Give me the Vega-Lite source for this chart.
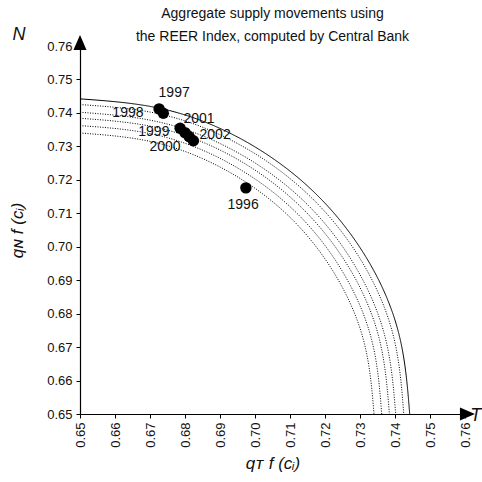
{
  "$schema": "https://vega.github.io/schema/vega-lite/v6.json",
  "width": 385,
  "height": 368,
  "autosize": "none",
  "padding": {"left": 80, "top": 46, "right": 17, "bottom": 68},
  "background": "white",
  "config": {
    "view": {"stroke": null},
    "font": "Liberation Sans",
    "axis": {"grid": false, "domainColor": "#000", "tickColor": "#000", "labelColor": "#111", "titleColor": "#111", "labelFont": "Liberation Sans", "labelFontSize": 13, "titleFont": "Liberation Sans", "titleFontSize": 17, "titleFontStyle": "italic", "titleFontWeight": "normal", "tickSize": 4, "domainWidth": 1.2, "labelOverlap": false}
  },
  "title": {
    "text": ["Aggregate supply movements using", "the REER Index, computed by Central Bank"],
    "fontSize": 14,
    "fontWeight": "normal",
    "font": "Liberation Sans",
    "color": "#111",
    "lineHeight": 23,
    "anchor": "middle",
    "offset": -18
  },
  "datasets": {
    "curves": [
      {"curve": "c0", "style": "solid", "i": 0, "x": 0.65, "y": 0.7442},
      {"curve": "c0", "style": "solid", "i": 1, "x": 0.6744, "y": 0.7410},
      {"curve": "c0", "style": "solid", "i": 2, "x": 0.6971, "y": 0.7316},
      {"curve": "c0", "style": "solid", "i": 3, "x": 0.7166, "y": 0.7166},
      {"curve": "c0", "style": "solid", "i": 4, "x": 0.7316, "y": 0.6971},
      {"curve": "c0", "style": "solid", "i": 5, "x": 0.7410, "y": 0.6744},
      {"curve": "c0", "style": "solid", "i": 6, "x": 0.7442, "y": 0.65},
      {"curve": "c1", "style": "dotted", "i": 0, "x": 0.65, "y": 0.7425},
      {"curve": "c1", "style": "dotted", "i": 1, "x": 0.6739, "y": 0.7394},
      {"curve": "c1", "style": "dotted", "i": 2, "x": 0.6963, "y": 0.7301},
      {"curve": "c1", "style": "dotted", "i": 3, "x": 0.7154, "y": 0.7154},
      {"curve": "c1", "style": "dotted", "i": 4, "x": 0.7301, "y": 0.6963},
      {"curve": "c1", "style": "dotted", "i": 5, "x": 0.7394, "y": 0.6739},
      {"curve": "c1", "style": "dotted", "i": 6, "x": 0.7425, "y": 0.65},
      {"curve": "c2", "style": "dotted", "i": 0, "x": 0.65, "y": 0.7402},
      {"curve": "c2", "style": "dotted", "i": 1, "x": 0.6733, "y": 0.7371},
      {"curve": "c2", "style": "dotted", "i": 2, "x": 0.6951, "y": 0.7281},
      {"curve": "c2", "style": "dotted", "i": 3, "x": 0.7138, "y": 0.7138},
      {"curve": "c2", "style": "dotted", "i": 4, "x": 0.7281, "y": 0.6951},
      {"curve": "c2", "style": "dotted", "i": 5, "x": 0.7371, "y": 0.6733},
      {"curve": "c2", "style": "dotted", "i": 6, "x": 0.7402, "y": 0.65},
      {"curve": "c3", "style": "dotted", "i": 0, "x": 0.65, "y": 0.7384},
      {"curve": "c3", "style": "dotted", "i": 1, "x": 0.6729, "y": 0.7354},
      {"curve": "c3", "style": "dotted", "i": 2, "x": 0.6942, "y": 0.7266},
      {"curve": "c3", "style": "dotted", "i": 3, "x": 0.7125, "y": 0.7125},
      {"curve": "c3", "style": "dotted", "i": 4, "x": 0.7266, "y": 0.6942},
      {"curve": "c3", "style": "dotted", "i": 5, "x": 0.7354, "y": 0.6729},
      {"curve": "c3", "style": "dotted", "i": 6, "x": 0.7384, "y": 0.65},
      {"curve": "c4", "style": "dotted", "i": 0, "x": 0.65, "y": 0.7362},
      {"curve": "c4", "style": "dotted", "i": 1, "x": 0.6723, "y": 0.7333},
      {"curve": "c4", "style": "dotted", "i": 2, "x": 0.6931, "y": 0.7247},
      {"curve": "c4", "style": "dotted", "i": 3, "x": 0.7110, "y": 0.7110},
      {"curve": "c4", "style": "dotted", "i": 4, "x": 0.7247, "y": 0.6931},
      {"curve": "c4", "style": "dotted", "i": 5, "x": 0.7333, "y": 0.6723},
      {"curve": "c4", "style": "dotted", "i": 6, "x": 0.7362, "y": 0.65},
      {"curve": "c5", "style": "dotted", "i": 0, "x": 0.65, "y": 0.7340},
      {"curve": "c5", "style": "dotted", "i": 1, "x": 0.6717, "y": 0.7311},
      {"curve": "c5", "style": "dotted", "i": 2, "x": 0.6920, "y": 0.7227},
      {"curve": "c5", "style": "dotted", "i": 3, "x": 0.7094, "y": 0.7094},
      {"curve": "c5", "style": "dotted", "i": 4, "x": 0.7227, "y": 0.6920},
      {"curve": "c5", "style": "dotted", "i": 5, "x": 0.7311, "y": 0.6717},
      {"curve": "c5", "style": "dotted", "i": 6, "x": 0.7340, "y": 0.65}
    ],
    "points": [
      {"year": "1997", "x": 0.6726, "y": 0.7412},
      {"year": "1998", "x": 0.6738, "y": 0.7399},
      {"year": "1999", "x": 0.6786, "y": 0.7354},
      {"year": "2001", "x": 0.6800, "y": 0.7341},
      {"year": "2000", "x": 0.6812, "y": 0.7329},
      {"year": "2002", "x": 0.6824, "y": 0.7317},
      {"year": "1996", "x": 0.6974, "y": 0.7176}
    ],
    "labels": [
      {"year": "1997", "x": 0.6769, "y": 0.7460},
      {"year": "1998", "x": 0.6637, "y": 0.7400},
      {"year": "1999", "x": 0.6711, "y": 0.7343},
      {"year": "2001", "x": 0.6840, "y": 0.7382},
      {"year": "2000", "x": 0.6743, "y": 0.7298},
      {"year": "2002", "x": 0.6886, "y": 0.7334},
      {"year": "1996", "x": 0.6966, "y": 0.7125}
    ],
    "arrowUp": [{"x": 0.65, "y": 0.76105}],
    "arrowRight": [{"x": 0.7607, "y": 0.65}],
    "axisNames": [
      {"name": "N", "x": 0.6326, "y": 0.7633, "align": "center"},
      {"name": "T", "x": 0.7631, "y": 0.6495, "align": "left"}
    ]
  },
  "encoding": {
    "x": {"field": "x", "type": "quantitative", "scale": {"domain": [0.65, 0.76], "nice": false, "zero": false},
      "axis": {"values": [0.65, 0.66, 0.67, 0.68, 0.69, 0.70, 0.71, 0.72, 0.73, 0.74, 0.75, 0.76], "tickCount": 12, "format": ".2f", "labelAngle": -90, "labelPadding": 4, "labelOverlap": false, "title": "qᴛ f (cᵢ)", "titlePadding": 8}},
    "y": {"field": "y", "type": "quantitative", "scale": {"domain": [0.65, 0.76], "nice": false, "zero": false},
      "axis": {"values": [0.65, 0.66, 0.67, 0.68, 0.69, 0.70, 0.71, 0.72, 0.73, 0.74, 0.75, 0.76], "tickCount": 12, "format": ".2f", "labelPadding": 4, "labelOverlap": false, "title": "qɴ f (cᵢ)", "titlePadding": 20}}
  },
  "layer": [
    {
      "data": {"name": "curves"},
      "mark": {"type": "line", "interpolate": "natural", "color": "#000", "strokeWidth": 1},
      "encoding": {
        "detail": {"field": "curve"},
        "order": {"field": "i", "type": "quantitative"},
        "strokeDash": {"field": "style", "type": "nominal", "scale": {"domain": ["solid", "dotted"], "range": [[1, 0], [1, 1.5]]}, "legend": null}
      }
    },
    {
      "data": {"name": "points"},
      "mark": {"type": "point", "filled": true, "color": "#000", "opacity": 1, "size": 130}
    },
    {
      "data": {"name": "labels"},
      "mark": {"type": "text", "fontSize": 14, "font": "Liberation Sans", "color": "#111", "align": "center", "baseline": "middle"},
      "encoding": {
        "text": {"field": "year"}
      }
    },
    {
      "data": {"name": "arrowUp"},
      "mark": {"type": "point", "shape": "M0,-1L-0.87,1L0.87,1Z", "filled": true, "color": "#000", "opacity": 1, "size": 225}
    },
    {
      "data": {"name": "arrowRight"},
      "mark": {"type": "point", "shape": "M1,0L-1,-0.87L-1,0.87Z", "filled": true, "color": "#000", "opacity": 1, "size": 225}
    },
    {
      "data": {"name": "axisNames"},
      "mark": {"type": "text", "fontSize": 18, "fontStyle": "italic", "font": "Liberation Sans", "color": "#111", "baseline": "middle"},
      "encoding": {
        "text": {"field": "name"},
        "align": {"field": "align", "type": "nominal", "scale": null}
      }
    }
  ]
}
